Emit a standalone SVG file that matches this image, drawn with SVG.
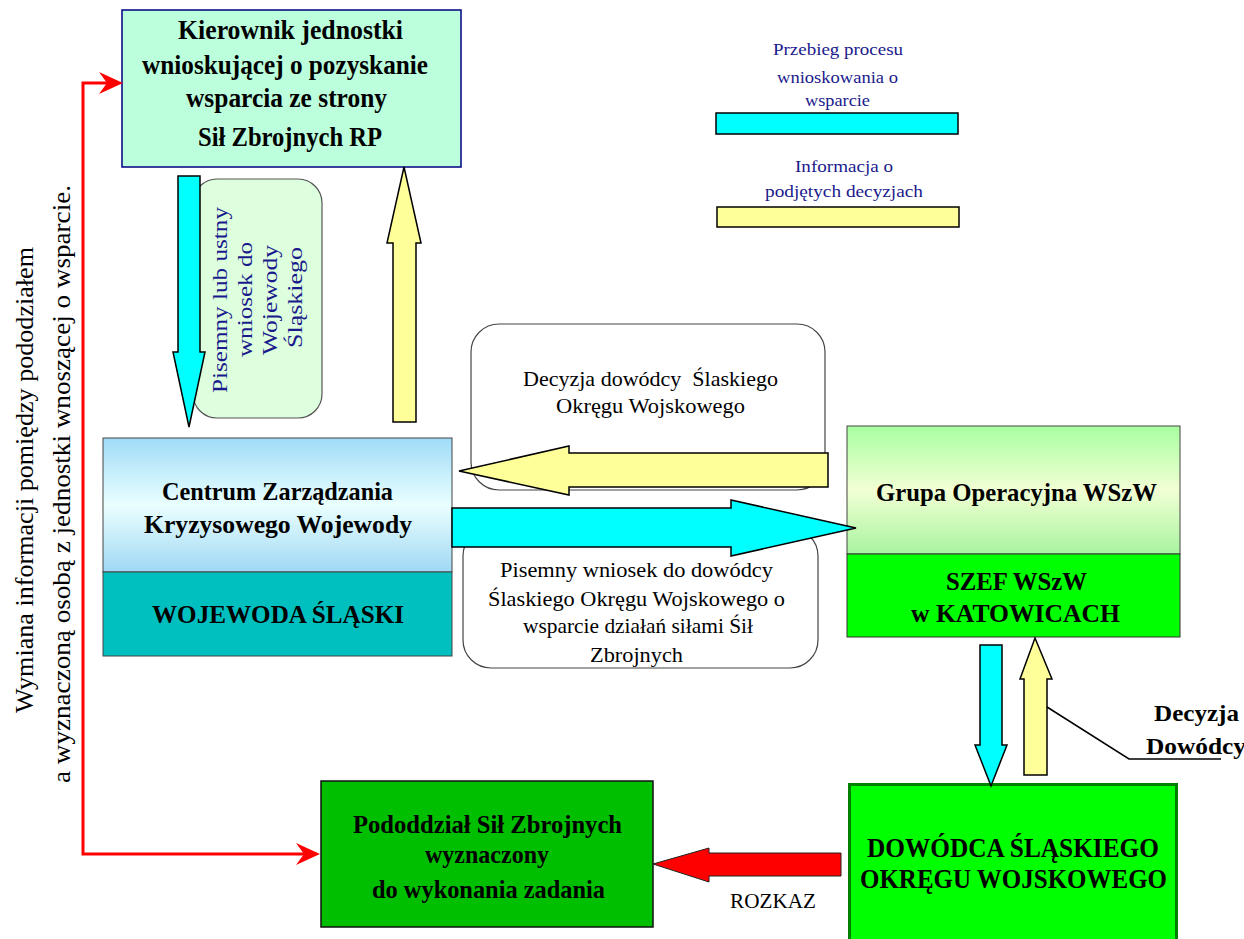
<svg xmlns="http://www.w3.org/2000/svg" width="1244" height="939" viewBox="0 0 1244 939">
<style>
text{font-family:"Liberation Serif","Times New Roman",serif;}
.b{font-weight:bold;fill:#000;lengthAdjust:spacingAndGlyphs;}
.r{fill:#000;}
.nv{fill:#1a1a8c;}
.rbox{fill:#fff;stroke:#444;stroke-width:1.2;}
.cy{fill:#00ffff;stroke:#000;stroke-width:1.5;stroke-linejoin:miter;}
.ye{fill:#ffff99;stroke:#000;stroke-width:1.5;}
.rd{fill:#ff0000;stroke:#222;stroke-width:1;}
</style>
<defs>
<linearGradient id="gC" x1="0" y1="0" x2="0" y2="1">
<stop offset="0" stop-color="#a0dcf8"/><stop offset="0.5" stop-color="#eaffff"/><stop offset="1" stop-color="#a0d8f4"/>
</linearGradient>
<linearGradient id="gG" x1="0" y1="0" x2="0" y2="1">
<stop offset="0" stop-color="#a8ffa0"/><stop offset="0.5" stop-color="#f2ffd4"/><stop offset="1" stop-color="#a8f4a0"/>
</linearGradient>
<marker id="redHead" markerUnits="userSpaceOnUse" markerWidth="26" markerHeight="24" refX="19" refY="11" orient="auto-start-reverse">
<polygon points="0,0 24,11 0,22 8,11" fill="#ff0000"/>
</marker>
</defs>

<!-- label boxes (behind arrows) -->
<g id="label-pisemny-ustny">
<rect x="193" y="179" width="129" height="239" rx="24" fill="#ddffdd" stroke="#555" stroke-width="1.2"/>
<text class="nv" font-size="22" textLength="186" lengthAdjust="spacingAndGlyphs" transform="translate(227,393) rotate(-90)">Pisemny lub ustny</text>
<text class="nv" font-size="22" textLength="115" lengthAdjust="spacingAndGlyphs" transform="translate(252,357) rotate(-90)">wniosek do</text>
<text class="nv" font-size="22" textLength="110" lengthAdjust="spacingAndGlyphs" transform="translate(277,355) rotate(-90)">Wojewody</text>
<text class="nv" font-size="22" textLength="101" lengthAdjust="spacingAndGlyphs" transform="translate(302,348) rotate(-90)">Śląskiego</text>
</g>
<g id="label-decyzja">
<rect class="rbox" x="471" y="324" width="354" height="166" rx="28"/>
<text class="r" font-size="21" textLength="255" lengthAdjust="spacingAndGlyphs" x="523" y="386" style="white-space:pre">Decyzja dowódcy  Ślaskiego</text>
<text class="r" font-size="21" textLength="189" lengthAdjust="spacingAndGlyphs" x="556" y="413">Okręgu Wojskowego</text>
</g>
<g id="label-wniosek">
<rect class="rbox" x="463" y="528" width="355" height="140" rx="28"/>
<text class="r" font-size="21" textLength="273" lengthAdjust="spacingAndGlyphs" x="500" y="577">Pisemny wniosek do dowódcy</text>
<text class="r" font-size="21" textLength="297" lengthAdjust="spacingAndGlyphs" x="488" y="606">Ślaskiego Okręgu Wojskowego o</text>
<text class="r" font-size="21" textLength="230" lengthAdjust="spacingAndGlyphs" x="523" y="633">wsparcie działań siłami Śił</text>
<text class="r" font-size="21" textLength="93" lengthAdjust="spacingAndGlyphs" x="590" y="662">Zbrojnych</text>
</g>

<!-- nodes -->
<g id="node-kierownik">
<rect x="122" y="10" width="339" height="157" fill="#bbffdd" stroke="#000080" stroke-width="1.5"/>
<text class="b" font-size="27" textLength="225" lengthAdjust="spacingAndGlyphs" x="178" y="39">Kierownik jednostki</text>
<text class="b" font-size="27" textLength="286" lengthAdjust="spacingAndGlyphs" x="142" y="74">wnioskującej o pozyskanie</text>
<text class="b" font-size="27" textLength="201" lengthAdjust="spacingAndGlyphs" x="186" y="107">wsparcia ze strony</text>
<text class="b" font-size="27" textLength="184" lengthAdjust="spacingAndGlyphs" x="198" y="146">Sił Zbrojnych RP</text>
</g>
<g id="node-centrum">
<rect x="103" y="438" width="349" height="134" fill="url(#gC)" stroke="#444" stroke-width="1"/>
<rect x="103" y="572" width="349" height="84" fill="#00bfbf" stroke="#444" stroke-width="1"/>
<text class="b" font-size="26" textLength="231" lengthAdjust="spacingAndGlyphs" x="162" y="500">Centrum Zarządzania</text>
<text class="b" font-size="26" textLength="268" lengthAdjust="spacingAndGlyphs" x="144" y="533">Kryzysowego Wojewody</text>
<text class="b" font-size="26" textLength="252" lengthAdjust="spacingAndGlyphs" x="152" y="623">WOJEWODA ŚLĄSKI</text>
</g>
<g id="node-grupa">
<rect x="847" y="426" width="333" height="128" fill="url(#gG)" stroke="#444" stroke-width="1"/>
<rect x="847" y="554" width="333" height="83" fill="#00ff00" stroke="#333" stroke-width="1"/>
<text class="b" font-size="26" textLength="281" lengthAdjust="spacingAndGlyphs" x="876" y="501">Grupa Operacyjna WSzW</text>
<text class="b" font-size="26" textLength="141" lengthAdjust="spacingAndGlyphs" x="946" y="590">SZEF WSzW</text>
<text class="b" font-size="26" textLength="209" lengthAdjust="spacingAndGlyphs" x="911" y="622">w KATOWICACH</text>
</g>
<g id="node-dowodca">
<rect x="849.5" y="784.5" width="327" height="160" fill="#00ff00" stroke="#008000" stroke-width="3"/>
<text class="b" font-size="27" textLength="292" lengthAdjust="spacingAndGlyphs" x="867" y="857">DOWÓDCA ŚLĄSKIEGO</text>
<text class="b" font-size="27" textLength="307" lengthAdjust="spacingAndGlyphs" x="860" y="888">OKRĘGU WOJSKOWEGO</text>
</g>
<g id="node-pododdzial">
<rect x="321" y="781" width="332" height="146" fill="#00bf00" stroke="#111" stroke-width="1.5"/>
<text class="b" font-size="26" textLength="269" lengthAdjust="spacingAndGlyphs" x="353" y="833">Pododdział Sił Zbrojnych</text>
<text class="b" font-size="26" textLength="124" lengthAdjust="spacingAndGlyphs" x="425" y="863">wyznaczony</text>
<text class="b" font-size="26" textLength="233" lengthAdjust="spacingAndGlyphs" x="372" y="898">do wykonania zadania</text>
</g>
<g id="legend">
<text class="nv" font-size="17" textLength="130" lengthAdjust="spacingAndGlyphs" x="773" y="55">Przebieg procesu</text>
<text class="nv" font-size="17" textLength="121" lengthAdjust="spacingAndGlyphs" x="777" y="83">wnioskowania o</text>
<text class="nv" font-size="17" textLength="65" lengthAdjust="spacingAndGlyphs" x="805" y="106">wsparcie</text>
<rect x="716" y="113" width="242" height="21" fill="#00ffff" stroke="#000" stroke-width="1.5"/>
<text class="nv" font-size="17" textLength="98" lengthAdjust="spacingAndGlyphs" x="795" y="172">Informacja o</text>
<text class="nv" font-size="17" textLength="158" lengthAdjust="spacingAndGlyphs" x="765" y="197">podjętych decyzjach</text>
<rect x="717" y="207" width="242" height="20" fill="#ffff99" stroke="#000" stroke-width="1.5"/>
</g>
<g id="label-wymiana">
<text class="r" font-size="25" textLength="466" lengthAdjust="spacingAndGlyphs" transform="translate(33,713) rotate(-90)">Wymiana informacji pomiędzy pododziałem</text>
<text class="r" font-size="25" textLength="598" lengthAdjust="spacingAndGlyphs" transform="translate(70,783) rotate(-90)">a wyznaczoną osobą z jednostki wnoszącej o wsparcie.</text>
</g>
<g id="label-decyzja-dowodcy">
<text class="b" font-size="24" textLength="85" lengthAdjust="spacingAndGlyphs" x="1154" y="721">Decyzja</text>
<text class="b" font-size="24" textLength="100" lengthAdjust="spacingAndGlyphs" x="1146" y="754">Dowódcy</text>
</g>
<g id="label-rozkaz">
<text class="r" font-size="21" textLength="86" lengthAdjust="spacingAndGlyphs" x="730" y="908">ROZKAZ</text>
</g>

<!-- connectors -->
<g id="connectors">
<polygon class="cy" points="178,176 200,176 200,352 205,352 189,427 173,352 178,352"/>
<polygon class="ye" points="393,422 416,422 416,243 421,243 404,167 387,243 393,243"/>
<polygon class="ye" points="828,453 828,487 569,487 569,495 459,471 569,446 569,453"/>
<polygon class="cy" points="452,508 731,508 731,500 856,528 731,556 731,547 452,547"/>
<polygon class="cy" points="980,645 1002,645 1002,745 1007,745 991,786 975,745 980,745"/>
<polygon class="ye" points="1024,775 1047,775 1047,679 1052,679 1035,638 1020,679 1024,679"/>
<polygon class="rd" points="841,853 841,876 709,876 709,882 653,864 709,848 709,853"/>
<polyline points="1047,707 1129,759 1221,759" fill="none" stroke="#000" stroke-width="1.5"/>
<path d="M118,83 L83,83 L83,854 L315,854" fill="none" stroke="#ff0000" stroke-width="3" marker-start="url(#redHead)" marker-end="url(#redHead)"/>
</g>
</svg>
